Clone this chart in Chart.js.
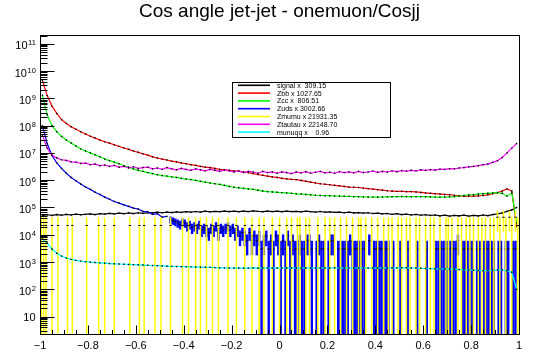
<!DOCTYPE html>
<html><head><meta charset="utf-8">
<script src="https://cdn.jsdelivr.net/npm/chart.js@4.4.1/dist/chart.umd.min.js"></script>
<style>html,body{margin:0;padding:0;background:#fff;}canvas{display:block;}</style>
</head><body>
<canvas id="c" width="540" height="358"></canvas>
<script>
// ---------- data ----------
const binCenters = [
-0.99,-0.97,-0.95,-0.93,-0.91,-0.89,-0.87,-0.85,-0.83,-0.81,
-0.79,-0.77,-0.75,-0.73,-0.71,-0.69,-0.67,-0.65,-0.63,-0.61,
-0.59,-0.57,-0.55,-0.53,-0.51,-0.49,-0.47,-0.45,-0.43,-0.41,
-0.39,-0.37,-0.35,-0.33,-0.31,-0.29,-0.27,-0.25,-0.23,-0.21,
-0.19,-0.17,-0.15,-0.13,-0.11,-0.09,-0.07,-0.05,-0.03,-0.01,
0.01,0.03,0.05,0.07,0.09,0.11,0.13,0.15,0.17,0.19,
0.21,0.23,0.25,0.27,0.29,0.31,0.33,0.35,0.37,0.39,
0.41,0.43,0.45,0.47,0.49,0.51,0.53,0.55,0.57,0.59,
0.61,0.63,0.65,0.67,0.69,0.71,0.73,0.75,0.77,0.79,
0.81,0.83,0.85,0.87,0.89,0.91,0.93,0.95,0.97,0.99];

const signal = [
5.0e4,5.4e4,5.1e4,5.5e4,5.2e4,5.6e4,5.3e4,5.7e4,5.4e4,5.6e4,
5.8e4,5.5e4,5.9e4,5.7e4,6.1e4,5.8e4,6.2e4,5.9e4,6.3e4,6.0e4,
6.4e4,6.1e4,6.5e4,6.3e4,6.7e4,6.4e4,6.8e4,6.5e4,6.9e4,6.6e4,
7.0e4,6.7e4,7.1e4,6.8e4,7.3e4,6.9e4,7.2e4,7.0e4,7.4e4,7.1e4,
7.3e4,7.0e4,7.4e4,7.1e4,7.5e4,7.2e4,7.0e4,7.4e4,7.1e4,7.3e4,
7.0e4,7.4e4,7.1e4,7.2e4,6.9e4,7.3e4,7.0e4,6.8e4,7.1e4,6.7e4,
6.9e4,6.6e4,6.8e4,6.4e4,6.7e4,6.3e4,6.5e4,6.2e4,6.4e4,6.0e4,
6.2e4,5.8e4,6.0e4,5.6e4,5.9e4,5.5e4,5.7e4,5.3e4,5.6e4,5.2e4,
5.4e4,5.1e4,5.3e4,4.9e4,5.2e4,4.8e4,5.1e4,4.9e4,5.2e4,4.8e4,
5.1e4,4.9e4,5.3e4,5.0e4,5.5e4,5.8e4,6.3e4,7.2e4,8.2e4,1.0e5];

const zbb = [
4.5e9,1.26e9,5.2e8,2.8e8,1.66e8,1.2e8,9.1e7,7.4e7,6.0e7,4.9e7,
4.1e7,3.5e7,2.95e7,2.57e7,2.29e7,2.0e7,1.74e7,1.51e7,1.35e7,1.17e7,
1.05e7,9.3e6,8.3e6,7.2e6,6.5e6,5.9e6,5.5e6,5.0e6,4.7e6,4.3e6,
4.0e6,3.7e6,3.5e6,3.2e6,3.0e6,2.9e6,2.7e6,2.5e6,2.4e6,2.3e6,
2.2e6,2.1e6,2.0e6,1.9e6,1.74e6,1.62e6,1.51e6,1.41e6,1.32e6,1.26e6,
1.17e6,1.12e6,1.07e6,1.05e6,9.8e5,9.1e5,8.5e5,7.9e5,7.4e5,7.1e5,
6.8e5,6.5e5,6.2e5,5.9e5,5.6e5,5.5e5,5.4e5,5.1e5,4.9e5,4.7e5,
4.5e5,4.3e5,4.1e5,4.0e5,3.9e5,3.9e5,3.8e5,3.8e5,3.7e5,3.55e5,
3.4e5,3.3e5,3.2e5,3.1e5,3.0e5,2.95e5,2.8e5,2.7e5,2.6e5,2.6e5,
2.6e5,2.65e5,2.75e5,2.9e5,3.2e5,3.5e5,4.0e5,4.8e5,4.0e5,2.0e4];

const zcc = [
1.3e9,2.5e8,1.0e8,6.0e7,4.0e7,2.95e7,2.3e7,1.78e7,1.41e7,1.17e7,
1.0e7,8.5e6,7.2e6,6.0e6,5.2e6,4.6e6,4.0e6,3.4e6,3.0e6,2.6e6,
2.3e6,2.1e6,1.9e6,1.74e6,1.58e6,1.48e6,1.41e6,1.32e6,1.26e6,1.17e6,
1.10e6,1.05e6,9.8e5,9.1e5,8.5e5,7.9e5,7.4e5,7.0e5,6.5e5,5.9e5,
5.5e5,5.25e5,5.0e5,4.8e5,4.6e5,4.3e5,4.0e5,3.8e5,3.7e5,3.6e5,
3.5e5,3.4e5,3.3e5,3.16e5,3.1e5,3.0e5,2.9e5,2.8e5,2.75e5,2.7e5,
2.7e5,2.63e5,2.6e5,2.57e5,2.55e5,2.5e5,2.48e5,2.45e5,2.42e5,2.4e5,
2.4e5,2.42e5,2.45e5,2.48e5,2.5e5,2.52e5,2.5e5,2.48e5,2.5e5,2.5e5,
2.48e5,2.45e5,2.4e5,2.4e5,2.42e5,2.45e5,2.5e5,2.63e5,2.75e5,2.9e5,
2.95e5,3.1e5,3.2e5,3.3e5,3.4e5,3.5e5,3.3e5,2.6e5,3.4e5,2.7e4];

const ztautau = [
4.5e7,1.5e7,8.2e6,6.6e6,5.6e6,5.3e6,4.7e6,4.6e6,4.1e6,4.2e6,
3.7e6,3.9e6,3.4e6,3.6e6,3.2e6,3.5e6,3.0e6,3.2e6,2.8e6,3.1e6,
2.7e6,2.9e6,3.0e6,2.6e6,2.8e6,2.5e6,2.9e6,2.6e6,2.4e6,2.7e6,
2.5e6,2.3e6,2.6e6,2.4e6,2.2e6,2.5e6,2.3e6,2.1e6,2.4e6,2.2e6,
2.0e6,2.2e6,1.9e6,2.1e6,2.0e6,1.8e6,2.1e6,1.9e6,2.0e6,1.8e6,
2.0e6,1.9e6,1.75e6,2.0e6,1.85e6,2.05e6,1.8e6,1.95e6,2.1e6,1.85e6,
1.95e6,1.8e6,2.05e6,1.9e6,2.0e6,1.85e6,2.1e6,1.9e6,2.0e6,2.15e6,
1.95e6,2.1e6,2.0e6,2.2e6,2.05e6,2.25e6,2.15e6,2.3e6,2.2e6,2.4e6,
2.3e6,2.45e6,2.35e6,2.55e6,2.5e6,2.65e6,2.6e6,2.8e6,2.9e6,3.1e6,
3.2e6,3.4e6,3.7e6,3.9e6,4.5e6,5.2e6,6.8e6,1.0e7,1.5e7,2.2e7];

const munuqq = [
7.0e3,5.0e3,3.0e3,2.1e3,1.65e3,1.4e3,1.25e3,1.15e3,1.08e3,1.03e3,
990,960,930,905,880,860,845,830,815,800,
790,775,760,745,730,720,705,695,685,675,
670,665,655,650,640,635,625,615,610,605,
600,605,595,600,610,595,600,605,595,600,
605,600,610,600,595,605,610,600,605,610,
605,615,610,600,610,605,600,610,605,600,
600,610,605,615,610,620,615,605,600,590,
580,575,565,560,555,550,545,530,520,510,
500,490,480,485,495,510,520,470,420,100];

// Zuds: dense part (first 27 bins) and a sparse, finer-binned tail
const zudsHead = [
1.0e8,2.2e7,8.0e6,4.3e6,2.7e6,1.8e6,1.25e6,9.5e5,7.2e5,5.6e5,
4.6e5,3.6e5,3.0e5,2.4e5,2.0e5,1.65e5,1.45e5,1.25e5,1.1e5,9.5e4,
8.8e4,7.2e4,6.9e4,5.6e4,5.9e4,4.4e4,4.7e4];
const zudsTailX = [
-0.455,-0.445,-0.435,-0.425,-0.415,-0.405,-0.395,-0.385,-0.375,-0.365,
-0.355,-0.345,-0.335,-0.325,-0.315,-0.305,-0.295,-0.285,-0.275,-0.265,
-0.255,-0.245,-0.235,-0.225,-0.215,-0.205,-0.195,-0.185,-0.175,-0.165,
-0.155,-0.145,-0.135,-0.125,-0.115,-0.105,-0.095,-0.085,-0.075,-0.065,
-0.055,-0.045,-0.035,-0.025,-0.015,-0.005,0.005,0.015,0.025,0.035,
0.045,0.055,0.065,0.075,0.085,0.095,0.105,0.115,0.125,0.135,
0.155,0.165,0.175,0.185,0.205,0.215,0.225,0.245,0.255,0.265,
0.275,0.285,0.295,0.305,0.315,0.325,0.335,0.345,0.355,0.375,
0.395,0.405,0.415,0.425,0.435,0.445,0.455,0.475,0.505,0.535,
0.575,0.615,0.655,0.665,0.675,0.685,0.695,0.705,0.715,0.725,
0.735,0.745,0.765,0.775,0.785,0.795,0.805,0.825,0.835,0.855,
0.865,0.875,0.885,0.895,0.915,0.925,0.945,0.955,0.975,0.985];
const zudsTailY = [
3.6e4,3.3e4,3.0e4,2.7e4,2.4e4,3.0e4,2.7e4,2.1e4,2.4e4,1.8e4,
2.1e4,1.8e4,2.4e4,1.5e4,1.8e4,1.5e4,1.2e4,1.8e4,1.5e4,2.1e4,
1.2e4,1.8e4,1.5e4,1.8e4,2.1e4,1.5e4,1.8e4,1.2e4,1.5e4,9008,
1.2e4,9008,6005,1.2e4,6005,9008,6005,9008,3003,6005,
9008,3003,6005,3003,9008,6005,3003,6005,3003,9008,
3003,6005,3003,3003,6005,3003,3003,6005,6005,3003,
3003,6005,3003,3003,3003,6005,6005,3003,3003,3003,
3003,3003,6005,3003,3003,3003,3003,3003,3003,6005,
3003,3003,3003,3003,3003,3003,3003,3003,3003,3003,
3003,3003,3003,3003,3003,3003,3003,3003,3003,3003,
3003,6005,3003,3003,3003,3003,3003,3003,3003,3003,
3003,3003,3003,3003,3003,3003,3003,3003,3003,3003];

const zmumuX = [
-0.995,-0.985,-0.975,-0.95,-0.925,-0.885,-0.865,-0.805,-0.755,-0.73,
-0.69,-0.625,-0.585,-0.565,-0.52,-0.495,-0.455,-0.405,-0.38,-0.35,
-0.33,-0.305,-0.28,-0.255,-0.215,-0.18,-0.145,-0.115,-0.085,-0.065,
-0.03,0.0,0.03,0.05,0.075,0.085,0.11,0.125,0.16,0.19,
0.21,0.23,0.255,0.28,0.305,0.33,0.34,0.36,0.385,0.41,
0.435,0.455,0.47,0.495,0.51,0.53,0.545,0.57,0.585,0.61,
0.63,0.645,0.67,0.695,0.705,0.72,0.745,0.76,0.78,0.795,
0.81,0.83,0.845,0.86,0.88,0.895,0.91,0.92,0.935,0.945,
0.96,0.97,0.985,0.995];
const zmumuY = [
2.19e4,2.19e4,2.19e4,2.19e4,2.19e4,2.19e4,2.19e4,2.19e4,2.19e4,2.19e4,
2.19e4,2.19e4,2.19e4,2.19e4,2.19e4,2.19e4,2.19e4,2.19e4,2.19e4,2.19e4,
2.19e4,2.19e4,2.19e4,2.19e4,2.19e4,2.19e4,2.19e4,2.19e4,2.19e4,2.19e4,
2.19e4,2.19e4,2.19e4,2.19e4,2.19e4,2.19e4,2.19e4,2.19e4,2.19e4,2.19e4,
2.19e4,2.19e4,2.19e4,2.19e4,2.19e4,2.19e4,2.19e4,2.19e4,2.19e4,2.19e4,
2.19e4,2.19e4,2.19e4,2.19e4,2.19e4,2.19e4,2.19e4,2.19e4,2.19e4,2.19e4,
2.19e4,2.19e4,2.19e4,2.19e4,2.19e4,2.19e4,2.19e4,2.19e4,2.19e4,2.19e4,
2.19e4,2.19e4,2.19e4,2.19e4,2.19e4,2.19e4,4.39e4,2.19e4,4.39e4,2.19e4,
4.39e4,2.19e4,4.39e4,2.19e4];

const weights = {zuds: 3002.66, zmumu: 21931.35};
const legendLabels = ['signal x  309.15','Zbb x 1027.65','Zcc x  806.51','Zuds x 3002.66','Zmumu x 21931.35','Ztautau x 22148.70','munuqq x    0.96'];
const xTickValues = [-1,-0.8,-0.6,-0.4,-0.2,0,0.2,0.4,0.6,0.8,1];
const xTickLabels = ['\u22121','\u22120.8','\u22120.6','\u22120.4','\u22120.2','0','0.2','0.4','0.6','0.8','1'];
const yTickExponents = [1,2,3,4,5,6,7,8,9,10,11];
const titleText = 'Cos angle jet-jet - onemuon/Cosjj';

// ---------- styles ----------
const COL = {signal:'#000000', zbb:'#ff0000', zcc:'#00ff00', zuds:'#0000ff', zmumu:'#ffff00', ztautau:'#ff00ff', munuqq:'#00ffff'};
const legendColors = [COL.signal, COL.zbb, COL.zcc, COL.zuds, COL.zmumu, COL.ztautau, COL.munuqq];
const FONT = '"Liberation Sans", Arial, Helvetica, sans-serif';

function pts(xs, ys) { return ys.map((v, i) => ({x: xs[i], y: v})); }
function curve(label, xs, ys, color, order) {
  return {type:'line', label, data: pts(xs, ys), borderColor: color, borderWidth: 1.2,
    pointRadius: 1, pointStyle: 'rect', pointBackgroundColor: '#000', pointBorderWidth: 0,
    tension: 0, order, clip: 0};
}
function errBars(label, xs, ys, w, color, thick, order) {
  return {type:'bar', label, data: ys.map((v, i) => {
      const e = Math.sqrt(v * w);
      return {x: xs[i], y: [Math.max(v - e, 1), v + e]};
    }),
    backgroundColor: color, borderWidth: 0, barThickness: thick, inflateAmount: 0,
    grouped: false, order, clip: 0};
}
function marks(label, xs, ys, order) {
  return {type:'line', label, data: pts(xs, ys), showLine: false, pointStyle: 'line',
    pointRadius: 1.2, borderColor: '#000', pointBorderColor: '#000', pointBorderWidth: 1, order, clip: 0};
}

const datasets = [
  curve('signal', binCenters, signal, COL.signal, 70),
  curve('Zbb', binCenters, zbb, COL.zbb, 60),
  curve('Zcc', binCenters, zcc, COL.zcc, 50),
  curve('Zuds', binCenters.slice(0, zudsHead.length), zudsHead, COL.zuds, 41),
  errBars('Zuds tail', zudsTailX, zudsTailY, weights.zuds, COL.zuds, 2.4, 40),
  marks('Zuds tail marks', zudsTailX, zudsTailY, 39),
  errBars('Zmumu', zmumuX, zmumuY, weights.zmumu, COL.zmumu, 1.5, 30),
  marks('Zmumu marks', zmumuX, zmumuY, 29),
  curve('Ztautau', binCenters, ztautau, COL.ztautau, 20),
  curve('munuqq', binCenters, munuqq, COL.munuqq, 10)
];

const rootAxes = {
  id: 'rootAxes',
  afterDatasetsDraw(chart) {
    const {ctx, scales: {x, y}} = chart;
    ctx.save();
    ctx.strokeStyle = '#000'; ctx.lineWidth = 1; ctx.fillStyle = '#000';
    ctx.strokeRect(40.5, 35.5, 479, 299);
    ctx.beginPath();
    for (let e = 0; e <= 11; e++) {
      for (let k = 1; k <= 9; k++) {
        const v = k * Math.pow(10, e);
        if (v < y.min || v > y.max) continue;
        const py = Math.round(y.getPixelForValue(v)) + 0.5;
        const len = (k === 1) ? 14 : 7;
        ctx.moveTo(40.5, py); ctx.lineTo(40.5 + len, py);
      }
    }
    for (let i = 0; i < xTickValues.length; i++) {
      const px = Math.round(x.getPixelForValue(xTickValues[i])) + 0.5;
      ctx.moveTo(px, 334.5); ctx.lineTo(px, 325.5);
      if (i < xTickValues.length - 1) {
        const step = (xTickValues[i + 1] - xTickValues[i]) / 4;
        for (let j = 1; j < 4; j++) {
          const q = Math.round(x.getPixelForValue(xTickValues[i] + j * step)) + 0.5;
          ctx.moveTo(q, 334.5); ctx.lineTo(q, 330);
        }
      }
    }
    ctx.stroke();
    ctx.font = '11px ' + FONT; ctx.textAlign = 'center'; ctx.textBaseline = 'alphabetic';
    xTickValues.forEach((v, i) => ctx.fillText(xTickLabels[i], x.getPixelForValue(v), 348.5));
    ctx.textAlign = 'right';
    yTickExponents.forEach(e => {
      const py = y.getPixelForValue(Math.pow(10, e));
      if (e === 1) {
        ctx.font = '11px ' + FONT; ctx.fillText('10', 35.5, py + 4);
      } else {
        ctx.font = '7.5px ' + FONT;
        const s = String(e); const w = ctx.measureText(s).width;
        ctx.fillText(s, 35.8, py + 1.5);
        ctx.font = '11px ' + FONT; ctx.fillText('10', 35.3 - w, py + 5.5);
      }
    });
    ctx.fillStyle = '#fff'; ctx.fillRect(232.5, 82.5, 158, 55);
    ctx.textAlign = 'left'; ctx.textBaseline = 'middle'; ctx.font = '7px ' + FONT;
    legendLabels.forEach((t, i) => {
      const ry = 85.3 + 7.8 * i;
      ctx.strokeStyle = legendColors[i]; ctx.lineWidth = 1.6;
      ctx.beginPath(); ctx.moveTo(238, ry); ctx.lineTo(270, ry); ctx.stroke();
      ctx.fillStyle = '#000'; ctx.fillText(t, 277, ry + 0.5);
    });
    ctx.strokeStyle = '#000'; ctx.lineWidth = 1;
    ctx.strokeRect(232.5, 82.5, 158, 55);
    ctx.restore();
  }
};

new Chart(document.getElementById('c'), {
  type: 'line',
  data: {datasets},
  options: {
    responsive: false, animation: false, devicePixelRatio: 1, events: [],
    layout: {padding: {left: 40, right: 21, top: 0, bottom: 24}},
    scales: {
      x: {type: 'linear', min: -1, max: 1, display: false, offset: false},
      y: {type: 'logarithmic', min: 2.3, max: 2.1e11, display: false}
    },
    plugins: {
      legend: {display: false}, tooltip: {enabled: false},
      title: {display: true, text: titleText, fullSize: false, color: '#000',
        font: {family: FONT, size: 19, weight: 'normal'}, padding: {top: 0.3, bottom: 11.9}}
    }
  },
  plugins: [rootAxes]
});
</script>
</body></html>
